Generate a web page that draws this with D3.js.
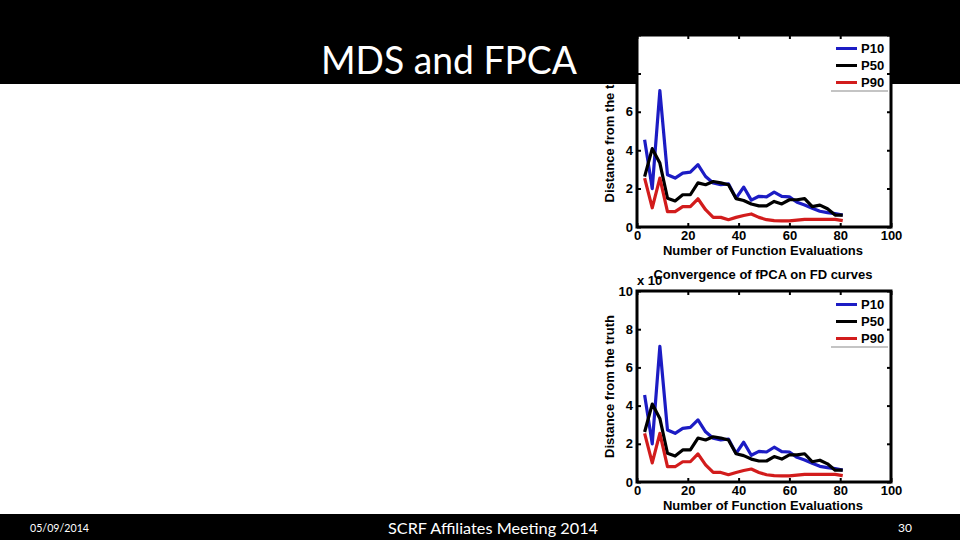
<!DOCTYPE html>
<html>
<head>
<meta charset="utf-8">
<script src="https://cdn.jsdelivr.net/npm/d3@7"></script>
<style>
  body { margin: 0; background: #fff; }
  svg { display: block; }
  .ax text { font-family: "Liberation Sans", Arial, sans-serif; font-weight: bold; font-size: 13px; fill: #000; }
</style>
</head>
<body>
<script>
// function evaluations (x)
const evals = [3, 6, 9, 12, 15, 18, 21, 24, 27, 30, 33, 36, 39, 42, 45, 48, 51, 54, 57, 60, 63, 66, 69, 72, 75, 78, 81];
// distance from the truth, per percentile
const p10 = [4.55, 2.0, 7.1, 2.72, 2.55, 2.81, 2.86, 3.25, 2.63, 2.29, 2.2, 2.25, 1.5, 2.08, 1.4, 1.6, 1.57, 1.82, 1.59, 1.57, 1.29, 1.15, 0.98, 0.82, 0.75, 0.7, 0.62];
const p50 = [2.62, 4.08, 3.33, 1.5, 1.36, 1.68, 1.68, 2.3, 2.2, 2.37, 2.3, 2.2, 1.48, 1.38, 1.2, 1.1, 1.1, 1.33, 1.2, 1.42, 1.42, 1.48, 1.06, 1.14, 0.95, 0.62, 0.62];
const p90 = [2.55, 1.0, 2.55, 0.8, 0.8, 1.06, 1.06, 1.47, 0.9, 0.5, 0.5, 0.38, 0.5, 0.6, 0.68, 0.5, 0.38, 0.33, 0.32, 0.32, 0.36, 0.4, 0.4, 0.4, 0.4, 0.4, 0.33];
const seriesNames = ["P10", "P50", "P90"];
const xTicks = [0, 20, 40, 60, 80, 100];
const yTicks = [0, 2, 4, 6, 8, 10];

const colors = { P10: "#1c1cc4", P50: "#000000", P90: "#d21c1c" };
const series = [
    { name: "P10", values: p10 },
    { name: "P50", values: p50 },
    { name: "P90", values: p90 }
];

const W = 960, H = 540;
const svg = d3.select("body").append("svg").attr("width", W).attr("height", H);

// slide header and footer bands
svg.append("rect").attr("x", 0).attr("y", 0).attr("width", W).attr("height", 84).attr("fill", "#000");
svg.append("text").attr("x", 449).attr("y", 74).attr("text-anchor", "middle")
    .attr("font-family", "Lato, 'Open Sans', sans-serif").attr("font-size", 38)
    .attr("textLength", 256).attr("lengthAdjust", "spacingAndGlyphs")
    .attr("fill", "#fff").text("MDS and FPCA");

// clip the upper figure: only its plot area shows above the header band
const defs = svg.append("defs");
const clip = defs.append("clipPath").attr("id", "upclip");
clip.append("rect").attr("x", 0).attr("y", 84).attr("width", W).attr("height", H - 84);
clip.append("rect").attr("x", 635).attr("y", 33).attr("width", 260).attr("height", 52);

function drawChart(g, top, bottom, showTitle) {
    const left = 637, right = 891;
    const x = d3.scaleLinear().domain([0, 100]).range([left, right]);
    const y = d3.scaleLinear().domain([0, 10]).range([bottom, top]);

    g.append("rect").attr("x", left).attr("y", top).attr("width", right - left).attr("height", bottom - top)
        .attr("fill", "#fff");

    const line = d3.line().x((d, i) => x(evals[i])).y(d => y(d));
    series.forEach(s => {
        g.append("path").datum(s.values).attr("d", line)
            .attr("fill", "none").attr("stroke", colors[s.name]).attr("stroke-width", 3.2)
            .attr("stroke-linejoin", "round");
    });

    // axes (ticks inside, like matlab)
    const ax = g.append("g").attr("class", "ax");
    ax.append("g").attr("transform", "translate(0," + bottom + ")")
        .call(d3.axisBottom(x).tickValues(xTicks).tickSize(-4).tickPadding(3.5))
        .call(a => a.select(".domain").remove());
    ax.append("g").attr("transform", "translate(" + left + ",0)")
        .call(d3.axisLeft(y).tickValues(yTicks).tickSize(-4).tickPadding(4))
        .call(a => a.select(".domain").remove());
    ax.append("g").attr("transform", "translate(0," + top + ")")
        .call(d3.axisTop(x).tickValues(xTicks).tickSize(-4).tickFormat(""))
        .call(a => a.select(".domain").remove());
    ax.append("g").attr("transform", "translate(" + right + ",0)")
        .call(d3.axisRight(y).tickValues(yTicks).tickSize(-4).tickFormat(""))
        .call(a => a.select(".domain").remove());
    ax.selectAll(".tick line").attr("stroke", "#000").attr("stroke-width", 2);
    ax.selectAll(".tick text").attr("font-size", 13);

    g.append("rect").attr("x", left).attr("y", top).attr("width", right - left).attr("height", bottom - top)
        .attr("fill", "none").attr("stroke", "#000").attr("stroke-width", 3);

    ax.append("text").attr("x", 763).attr("y", bottom + 27.5).attr("text-anchor", "middle")
        .attr("font-size", 12.7).text("Number of Function Evaluations");
    ax.append("text").attr("transform", "translate(614," + ((top + bottom) / 2) + ") rotate(-90)")
        .attr("text-anchor", "middle").attr("font-size", 13.6).text("Distance from the truth");
    if (showTitle) {
        ax.append("text").attr("x", 637).attr("y", top - 6).text("x 10");
        ax.append("text").attr("x", 763).attr("y", top - 12).attr("text-anchor", "middle")
            .attr("font-size", 13).text("Convergence of fPCA on FD curves");
    }

    // legend
    const lg = g.append("g").attr("class", "ax");
    seriesNames.forEach((n, i) => {
        const ly = top + 13.5 + i * 17;
        lg.append("line").attr("x1", 836).attr("x2", 857).attr("y1", ly).attr("y2", ly)
            .attr("stroke", colors[n]).attr("stroke-width", 3);
        lg.append("text").attr("x", 861).attr("y", ly + 4.5).attr("font-size", 13).text(n);
    });
    lg.append("line").attr("x1", 831).attr("x2", 888).attr("y1", top + 56).attr("y2", top + 56)
        .attr("stroke", "#8a8a8a").attr("stroke-width", 1.2);
}

// upper copy: its title sits under the header band, so it is not drawn
drawChart(svg.append("g").attr("clip-path", "url(#upclip)"), 35, 227, false);
drawChart(svg.append("g"), 291, 482, true);

svg.append("rect").attr("x", 0).attr("y", 514).attr("width", W).attr("height", H - 514).attr("fill", "#000");
const foot = svg.append("g").attr("fill", "#fff").attr("font-family", "Lato, 'Open Sans', sans-serif");
foot.append("text").attr("x", 30).attr("y", 532).attr("font-size", 12)
    .attr("textLength", 59).attr("lengthAdjust", "spacingAndGlyphs").text("05/09/2014");
foot.append("text").attr("x", 493).attr("y", 534).attr("font-size", 16).attr("text-anchor", "middle")
    .attr("textLength", 210).attr("lengthAdjust", "spacingAndGlyphs").text("SCRF Affiliates Meeting 2014");
foot.append("text").attr("x", 905).attr("y", 532).attr("font-size", 12).attr("text-anchor", "middle").text("30");
</script>
</body>
</html>
